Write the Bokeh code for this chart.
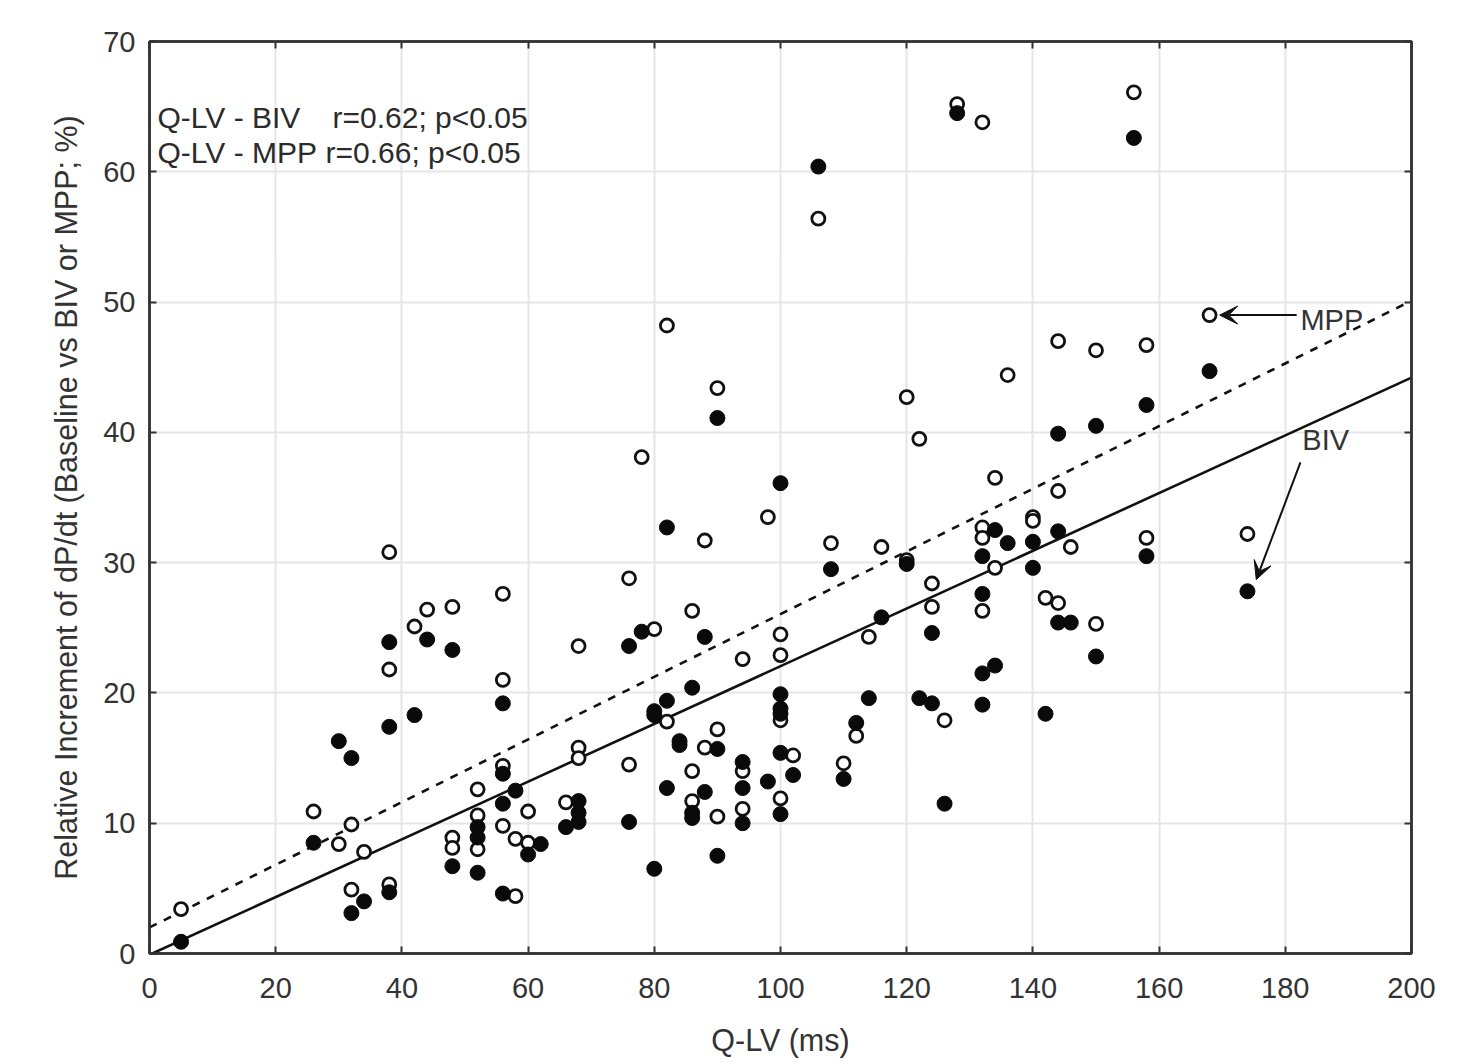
from bokeh.plotting import figure
from bokeh.models import (Range1d, LinearAxis, Label, Arrow, VeeHead, FixedTicker,
                          CustomJSTickFormatter)
from bokeh.embed import file_html
from bokeh.resources import INLINE

# ---------------- data ----------------
# BIV (filled circles): Q-LV (ms) and relative increment of dP/dt (%)
qlv_biv = [5, 26, 30, 32, 32, 34, 38, 38, 38, 42, 44, 48, 48, 52, 52, 52,
           56, 56, 56, 56, 58, 60, 62, 66, 68, 68, 68, 76, 76, 78, 80, 80, 80,
           82, 82, 82, 84, 84, 86, 86, 86, 88, 88, 90, 90, 90, 94, 94, 94, 98,
           100, 100, 100, 100, 100, 100, 102, 106, 108, 110, 112, 114, 116, 120,
           122, 124, 124, 126, 128, 132, 132, 132, 132, 134, 134, 136, 140, 140,
           142, 144, 144, 144, 146, 150, 150, 156, 158, 158, 168, 174]
biv_inc = [0.9, 8.5, 16.3, 15.0, 3.1, 4.0, 23.9, 17.4, 4.7, 18.3, 24.1, 23.3, 6.7,
           9.7, 8.9, 6.2, 19.2, 13.8, 11.5, 4.6, 12.5, 7.6, 8.4, 9.7, 11.7, 10.8,
           10.1, 23.6, 10.1, 24.7, 18.6, 18.3, 6.5, 32.7, 19.4, 12.7, 16.3, 16.0,
           20.4, 10.8, 10.4, 24.3, 12.4, 41.1, 15.7, 7.5, 14.7, 12.7, 10.0, 13.2,
           36.1, 19.9, 18.8, 18.4, 15.4, 10.7, 13.7, 60.4, 29.5, 13.4, 17.7, 19.6,
           25.8, 29.9, 19.6, 24.6, 19.2, 11.5, 64.5, 30.5, 27.6, 21.5, 19.1, 32.5,
           22.1, 31.5, 31.6, 29.6, 18.4, 39.9, 32.4, 25.4, 25.4, 40.5, 22.8, 62.6,
           42.1, 30.5, 44.7, 27.8]

# MPP (open circles)
qlv_mpp = [5, 26, 30, 32, 32, 34, 38, 38, 38, 42, 44, 48, 48, 48, 52, 52, 52,
           56, 56, 56, 56, 58, 58, 60, 60, 66, 68, 68, 68, 76, 76, 78, 80, 82, 82,
           86, 86, 86, 88, 88, 90, 90, 90, 94, 94, 94, 98, 100, 100, 100, 100, 102,
           106, 108, 110, 112, 114, 116, 120, 120, 122, 124, 124, 126, 128, 132,
           132, 132, 132, 134, 134, 136, 140, 140, 142, 144, 144, 144, 146, 150,
           150, 156, 158, 158, 168, 174]
mpp_inc = [3.4, 10.9, 8.4, 9.9, 4.9, 7.8, 30.8, 21.8, 5.3, 25.1, 26.4, 26.6, 8.9,
           8.1, 12.6, 10.6, 8.0, 27.6, 21.0, 14.4, 9.8, 8.8, 4.4, 10.9, 8.5, 11.6,
           23.6, 15.8, 15.0, 28.8, 14.5, 38.1, 24.9, 48.2, 17.8, 26.3, 14.0, 11.7,
           31.7, 15.8, 43.4, 17.2, 10.5, 22.6, 14.0, 11.1, 33.5, 24.5, 22.9, 17.9,
           11.9, 15.2, 56.4, 31.5, 14.6, 16.7, 24.3, 31.2, 42.7, 30.2, 39.5, 28.4,
           26.6, 17.9, 65.2, 63.8, 32.7, 31.9, 26.3, 36.5, 29.6, 44.4, 33.5, 33.2,
           27.3, 47.0, 35.5, 26.9, 31.2, 46.3, 25.3, 66.1, 46.7, 31.9, 49.0, 32.2]

# regression fits (intercept, slope)
biv_fit = (-0.1, 0.2215)
mpp_fit = (2.0, 0.2405)
fit_x = [0, 200]

x_ticks = [0, 20, 40, 60, 80, 100, 120, 140, 160, 180, 200]
y_ticks = [0, 10, 20, 30, 40, 50, 60, 70]

stats_lines = [("Q-LV - BIV", "r=0.62; p<0.05"), ("Q-LV - MPP", "r=0.66; p<0.05")]

FONT = "Liberation Sans"
TXT = "#2b2b2b"
W, H = 1458, 1064

p = figure(width=W, height=H, output_backend="svg", toolbar_location=None,
           x_range=Range1d(0, 200), y_range=Range1d(0, 70),
           min_border_left=149, min_border_right=47, min_border_top=41,
           min_border_bottom=111, background_fill_color="white",
           border_fill_color="white")

p.outline_line_color = "#333333"
p.outline_line_width = 2.5

for ax, ticks in ((p.xaxis[0], x_ticks), (p.yaxis[0], y_ticks)):
    ax.ticker = FixedTicker(ticks=ticks)
    ax.major_tick_in = 7
    ax.major_tick_out = 0
    ax.minor_tick_line_color = None
    ax.major_tick_line_color = "#333333"
    ax.major_tick_line_width = 2
    ax.axis_line_color = "#333333"
    ax.axis_line_width = 2.5
    ax.major_label_text_font = FONT
    ax.major_label_text_font_size = "29px"
    ax.major_label_text_color = "#333333"
    ax.axis_label_text_font = FONT
    ax.axis_label_text_font_size = "30.5px"
    ax.axis_label_text_font_style = "normal"
    ax.axis_label_text_color = "#333333"

p.xaxis.axis_label = "Q-LV (ms)"
p.yaxis.axis_label = "Relative Increment of dP/dt (Baseline vs BIV or MPP; %)"
p.xaxis.major_label_standoff = 24
p.xaxis.axis_label_standoff = 22
p.yaxis.major_label_standoff = 14
p.yaxis.axis_label_standoff = 17

blank = CustomJSTickFormatter(code="return ''")
for loc, ticks in (("above", x_ticks), ("right", y_ticks)):
    ax = LinearAxis(ticker=FixedTicker(ticks=ticks), formatter=blank,
                    major_label_text_font_size="0px", major_label_standoff=0,
                    major_tick_in=7, major_tick_out=0, minor_tick_line_color=None,
                    major_tick_line_color="#333333", major_tick_line_width=2,
                    axis_line_color="#333333", axis_line_width=2.5)
    p.add_layout(ax, loc)

p.xgrid.ticker = FixedTicker(ticks=x_ticks)
p.ygrid.ticker = FixedTicker(ticks=y_ticks)
p.grid.grid_line_color = "#e6e6e6"
p.grid.grid_line_width = 2

# regression lines
p.line(fit_x, [biv_fit[0] + biv_fit[1] * x for x in fit_x],
       line_color="#111111", line_width=2.6)
p.line(fit_x, [mpp_fit[0] + mpp_fit[1] * x for x in fit_x],
       line_color="#111111", line_width=2.6, line_dash="8 8")

# points
p.scatter(qlv_mpp, mpp_inc, size=13, marker="circle", fill_color="white",
          line_color="#111111", line_width=2.8)
p.scatter(qlv_biv, biv_inc, size=15, marker="circle", fill_color="#0a0a0a",
          line_color="#0a0a0a", line_width=1)

# statistics text
for (name, stat), y, xs in zip(stats_lines, (64.2, 61.5), (29.0, 27.9)):
    p.add_layout(Label(x=1.27, y=y, text=name, text_font=FONT, text_font_size="30px",
                       text_color=TXT, text_baseline="middle"))
    p.add_layout(Label(x=xs, y=y, text=stat, text_font=FONT, text_font_size="30px",
                       text_color=TXT, text_baseline="middle"))

# line labels with arrows
p.add_layout(Label(x=182.4, y=48.6, text="MPP", text_font=FONT, text_font_size="29px",
                   text_color="#333333", text_baseline="middle"))
p.add_layout(Label(x=182.7, y=39.4, text="BIV", text_font=FONT, text_font_size="29px",
                   text_color="#333333", text_baseline="middle"))
p.add_layout(Arrow(x_start=181.8, y_start=49.0, x_end=169.6, y_end=49.0,
                   line_color="#111111", line_width=2,
                   end=VeeHead(size=18, fill_color="#111111", line_color="#111111")))
p.add_layout(Arrow(x_start=182.4, y_start=37.7, x_end=175.4, y_end=28.7,
                   line_color="#111111", line_width=2,
                   end=VeeHead(size=18, fill_color="#111111", line_color="#111111")))

open("out.html", "w").write(file_html(p, INLINE))
